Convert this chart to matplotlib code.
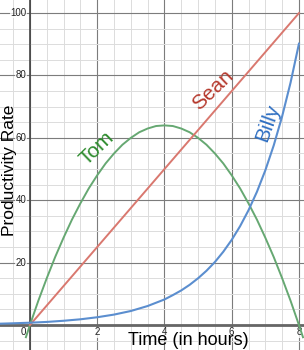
import matplotlib.pyplot as plt
from matplotlib.ticker import MultipleLocator

plt.rcParams['font.family'] = ['Liberation Sans', 'DejaVu Sans']

# Sean: straight line
sean_x = [0, 8]
sean_y = [0, 100]

# Tom: rises to a peak at 4 hours, back to zero at 8
tom_x = [-0.12, 0, 0.25, 0.5, 0.75, 1, 1.25, 1.5, 1.75, 2, 2.25, 2.5, 2.75, 3, 3.25, 3.5, 3.75,
         4, 4.25, 4.5, 4.75, 5, 5.25, 5.5, 5.75, 6, 6.25, 6.5, 6.75, 7, 7.25, 7.5, 7.75, 8, 8.12]
tom_y = [-3.9, 0, 7.8, 15, 21.8, 28, 33.8, 39, 43.8, 48, 51.8, 55, 57.8, 60, 61.8, 63, 63.8,
         64, 63.8, 63, 61.8, 60, 57.8, 55, 51.8, 48, 43.8, 39, 33.8, 28, 21.8, 15, 7.8, 0, -3.9]

# Billy: slow start, fast finish
billy_x = [-0.9, -0.5, 0, 0.5, 1, 1.5, 2, 2.5, 3, 3.5, 4, 4.25, 4.5, 4.75, 5, 5.25,
           5.5, 5.75, 6, 6.25, 6.5, 6.75, 7, 7.25, 7.5, 7.75, 8]
billy_y = [0.43, 0.56, 0.75, 1.0, 1.37, 1.84, 2.5, 3.35, 4.5, 6.1, 8.2, 9.6, 11.1, 12.9,
           15.0, 17.4, 20.2, 23.5, 27.3, 31.7, 36.8, 42.7, 49.6, 57.6, 66.9, 77.7, 90.2]

x_ticks = [2, 4, 6, 8]
y_ticks = [20, 40, 60, 80, 100]

fig = plt.figure(figsize=(3.04, 3.5), dpi=100)
ax = fig.add_axes([0, 0, 1, 1])
ax.set_xlim(-0.89, 8.15)
ax.set_ylim(-8.0, 104.2)

# grid: minor every 0.5 / 5, major every 2 / 20
ax.xaxis.set_minor_locator(MultipleLocator(0.5))
ax.yaxis.set_minor_locator(MultipleLocator(5))
ax.xaxis.set_major_locator(MultipleLocator(2))
ax.yaxis.set_major_locator(MultipleLocator(20))
ax.grid(which='minor', color='#dcdcdc', lw=0.7)
ax.grid(which='major', color='#7c7c7c', lw=0.8)
ax.set_axisbelow(True)
ax.tick_params(which='both', length=0, labelbottom=False, labelleft=False)
for s in ax.spines.values():
    s.set_visible(False)

ax.axhline(0, color='#666666', lw=2.0, zorder=1)
ax.axvline(0, color='#444444', lw=1.2, zorder=1)

ax.plot(tom_x, tom_y, color='#66a872', lw=1.4, zorder=3)
ax.plot(sean_x, sean_y, color='#d9786f', lw=1.4, zorder=3)
ax.plot(billy_x, billy_y, color='#5b8ecf', lw=1.5, zorder=3)

bbox = dict(facecolor='white', edgecolor='none', pad=0.3, alpha=0.8)
for t in y_ticks:
    ax.text(-0.1, t, str(t), ha='right', va='center', fontsize=7, color='#222222', bbox=bbox, zorder=2)
for t in x_ticks:
    ax.text(t, -2.3, str(t), ha='center', va='center', fontsize=7, color='#222222', bbox=bbox, zorder=2)
ax.text(-0.2, -2.3, '0', ha='center', va='center', fontsize=7, color='#222222', zorder=2)

ax.text(2.0, 56.8, 'Tom', rotation=44, ha='center', va='center', fontsize=15, color='#2b8a2b', zorder=4)
ax.text(5.45, 75.5, 'Sean', rotation=44, ha='center', va='center', fontsize=15, color='#b5382c', zorder=4)
ax.text(7.08, 64.7, 'Billy', rotation=70, ha='center', va='center', fontsize=15, color='#2f6fc2', zorder=4)

ax.text(4.72, -4.8, 'Time (in hours)', ha='center', va='center', fontsize=13, color='black', zorder=5)
ax.text(-0.6, 49.5, 'Productivity Rate', rotation=90, ha='center', va='center', fontsize=12.5, color='black', zorder=5)

fig.savefig('out.png', dpi=100)
